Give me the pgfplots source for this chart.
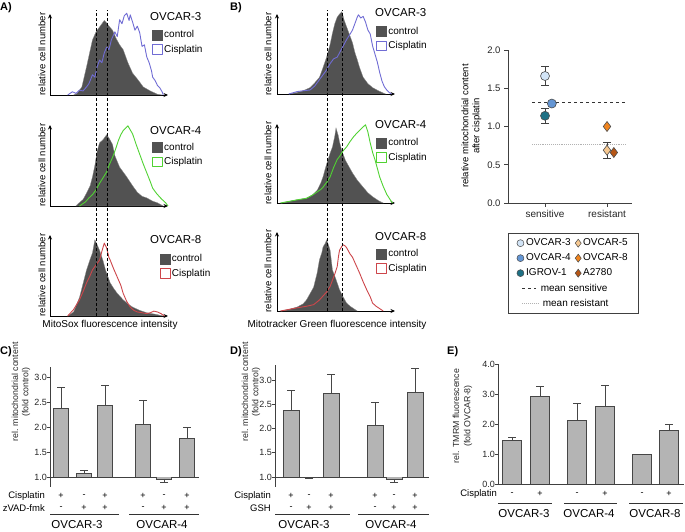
\documentclass[border=0pt]{standalone}
\usepackage{pgfplots}
\pgfplotsset{compat=1.18}
\usetikzlibrary{arrows.meta}
\usepackage{fontspec}
\setmainfont{Liberation Sans}

\definecolor{cisblue}{RGB}{112,108,212}
\definecolor{cisgreen}{RGB}{80,210,50}
\definecolor{cisred}{RGB}{205,70,75}
\definecolor{ctrlgray}{RGB}{82,82,82}
\definecolor{barfill}{RGB}{180,180,180}
\definecolor{baredge}{RGB}{70,70,70}
\definecolor{cA}{RGB}{210,228,246}
\definecolor{cB}{RGB}{100,150,212}
\definecolor{cC}{RGB}{30,112,132}
\definecolor{dA}{RGB}{246,200,145}
\definecolor{dB}{RGB}{240,132,30}
\definecolor{dC}{RGB}{182,86,22}

\pgfplotsset{
  every axis/.append style={/pgf/number format/assume math mode=true},
  hist/.style={scale only axis, anchor=south west, width=118pt, height=81pt,
    xmin=0, xmax=100, ymin=0, ymax=100,
    axis lines=left, xtick=\empty, ytick=\empty, clip=false,
    axis line style={line width=0.9pt, -{Stealth[length=4.5pt,width=4pt]}},
    legend cell align=left,
    legend style={draw=none, fill=none, anchor=north west,
      font=\fontsize{10}{11}\selectfont, row sep=3pt, inner sep=0pt,
      nodes={inner sep=1.5pt}},
  },
  ctrl/.style={fill=ctrlgray, draw=black!45, line width=0.3pt,
    legend image code/.code={\fill[ctrlgray] (0pt,-5pt) rectangle (10pt,5pt);}},
  cis/.style={draw=#1, line width=0.9pt, line join=round,
    legend image code/.code={\draw[#1, line width=0.8pt] (0.4pt,-4.6pt) rectangle (10pt,5pt);}},
  barax/.style={scale only axis, anchor=south west, clip=false,
    axis x line=none, axis y line=left,
    axis line style={-, line width=0.8pt, black!75},
    tick align=outside, major tick length=3pt,
    tick style={black!75, line width=0.8pt},
    tick label style={font=\fontsize{9}{10}\selectfont, black!85},
    yticklabel style={inner xsep=1.5pt, xshift=1.5pt, /pgf/number format/.cd, fixed, fixed zerofill, precision=1},
    xtick=\empty},
  bar/.style={fill=barfill, draw=baredge, line width=0.8pt},
  eb/.style={draw=none, mark=none, forget plot,
    error bars/y explicit,
    error bars/error bar style={draw=baredge, line width=0.8pt},
    error bars/error mark options={rotate=90, mark size=4pt, draw=baredge, line width=0.8pt}},
  mleg/.style={legend image code/.code={\draw[##1] plot coordinates {(0pt,0pt)};}},
}

\begin{document}
\begin{tikzpicture}
\useasboundingbox (0pt,0pt) rectangle (685pt,532pt);

% ================= Panel A =================
\begin{axis}[hist, at={(50pt,437pt)}, legend style={at={(0.864,0.815)}}]
\addplot[ctrl] coordinates {(20,0)(23,2)(27,10)(31,35)(34,55)(36,68)(39,78)(42,84)(44,88)(46,92)(48,89)(50,85)(53,80)(56,70)(59,62)(62,56)(66,40)(70,27)(75,18)(79,10)(85,5)(91,1)(95,0)} \closedcycle;
\addlegendentry{control}
\addplot[cis=cisblue] coordinates {(15,0)(19,4)(22,2)(25,6)(28,5)(31,10)(33,14)(36,25)(38,22)(40,35)(42,43)(44,40)(46,52)(48,59)(50,56)(52,68)(55,78)(57,72)(59,93)(61,88)(63,98)(65,101)(67,92)(68,99)(70,90)(72,80)(74,85)(76,77)(78,60)(80,62)(82,47)(84,40)(86,30)(87,22)(89,18)(91,12)(93,9)(95,4)(96,0)};
\addlegendentry{Cisplatin}
\end{axis}

\begin{axis}[hist, at={(50pt,326pt)}, legend style={at={(0.864,0.80)}}]
\addplot[ctrl] coordinates {(22,0)(24,3)(28,8)(31,16)(34,25)(36,36)(38,50)(40,68)(42,78)(45,82)(48,88)(50,84)(53,76)(55,62)(57,55)(59,48)(62,42)(65,36)(70,25)(74,17)(78,12)(82,10)(87,6)(91,4)(96,0)} \closedcycle;
\addlegendentry{control}
\addplot[cis=cisgreen] coordinates {(25,0)(30,5)(33,10)(36,14)(39,20)(42,28)(45,35)(48,42)(50,50)(53,60)(56,72)(58,81)(60,88)(62,93)(64,96)(66,99)(68,94)(70,89)(73,76)(76,64)(79,52)(82,41)(85,30)(87,22)(90,16)(93,11)(95,8)(98,4)(100,0)};
\addlegendentry{Cisplatin}
\end{axis}

\begin{axis}[hist, at={(50pt,216pt)}, legend style={at={(0.93,0.78)}}]
\addplot[ctrl] coordinates {(15,0)(20,5)(25,23)(28,40)(31,57)(34,70)(36,78)(38,94)(40,88)(42,81)(45,68)(47,57)(51,41)(54,34)(57,28)(62,20)(66,15)(70,11)(76,7)(82,4)(90,2)(96,0)} \closedcycle;
\addlegendentry{control}
\addplot[cis=cisred] coordinates {(15,0)(20,8)(25,20)(28,30)(31,41)(34,50)(36,57)(39,63)(42,69)(44,80)(46,90)(48,84)(50,72)(51,69)(54,58)(57,48)(60,38)(62,28)(65,18)(68,11)(71,7)(74,5)(78,4)(82,3)(85,4)(88,6)(91,5)(94,3)(97,0)};
\addlegendentry{Cisplatin}
\end{axis}

\begin{axis}[at={(50pt,216pt)}, anchor=south west, scale only axis, width=118pt, height=306pt, xmin=0, xmax=100, ymin=0, ymax=1, hide axis]
\addplot[black, densely dashed, line width=0.5pt] coordinates {(39.6,0)(39.6,1)};
\addplot[black, densely dashed, line width=0.5pt] coordinates {(48.6,0)(48.6,1)};
\end{axis}

% ================= Panel B histograms =================
\begin{axis}[hist, at={(277pt,438pt)}, height=80pt, legend style={at={(0.84,0.86)}}]
\addplot[ctrl] coordinates {(10,0)(17,2)(22,4)(28,8)(32,14)(36,21)(39,33)(42,46)(45,62)(47,76)(49,88)(51,96)(53,100)(55,103)(57,92)(59,84)(62,72)(64,64)(66,52)(68,43)(70,33)(73,21)(77,13)(81,8)(86,4)(92,0)} \closedcycle;
\addlegendentry{control}
\addplot[cis=cisblue] coordinates {(10,0)(17,3)(22,4)(28,5)(32,10)(36,18)(39,24)(42,30)(45,38)(48,44)(51,46)(55,57)(59,68)(62,75)(64,80)(66,88)(68,96)(69,99)(71,95)(73,97)(75,90)(77,80)(79,75)(81,60)(83,50)(85,40)(87,27)(89,16)(91,9)(93,5)(95,2)(97,0)};
\addlegendentry{Cisplatin}
\end{axis}

\begin{axis}[hist, at={(277pt,329pt)}, height=79pt, legend style={at={(0.84,0.835)}}]
\addplot[ctrl] coordinates {(3,0)(10,2)(17,4)(25,6)(30,10)(34,16)(37,25)(39,33)(41,44)(43,54)(45,63)(47,71)(49,85)(50,95)(52,85)(53,77)(55,66)(58,54)(61,46)(64,38)(68,29)(73,20)(77,13)(81,8)(86,3)(90,0)} \closedcycle;
\addlegendentry{control}
\addplot[cis=cisgreen] coordinates {(3,0)(10,2)(17,4)(25,6)(30,10)(34,14)(37,17)(39,20)(41,24)(43,28)(45,33)(48,45)(51,55)(53,59)(56,66)(59,71)(62,78)(65,84)(68,89)(70,92)(72,95)(75,99)(77,90)(79,76)(81,64)(83,55)(85,44)(87,33)(90,21)(93,11)(96,4)(98,0)};
\addlegendentry{Cisplatin}
\end{axis}

\begin{axis}[hist, at={(277pt,221pt)}, height=79pt, legend style={at={(0.84,0.80)}}]
\addplot[ctrl] coordinates {(3,0)(10,2)(17,5)(22,9)(25,14)(28,22)(31,30)(34,48)(36,65)(38,74)(39,81)(41,86)(42,90)(44,82)(45,77)(47,52)(50,40)(53,27)(56,18)(59,10)(62,6)(64,4)(68,0)} \closedcycle;
\addlegendentry{control}
\addplot[cis=cisred] coordinates {(3,0)(10,2)(17,4)(25,6)(31,8)(36,14)(39,19)(42,24)(45,31)(47,39)(49,47)(51,56)(52,68)(53,77)(55,82)(56,84)(58,82)(59,80)(62,72)(64,68)(67,58)(70,48)(73,37)(76,27)(79,18)(81,10)(84,6)(86,4)(90,0)};
\addlegendentry{Cisplatin}
\end{axis}

\begin{axis}[at={(277pt,221pt)}, anchor=south west, scale only axis, width=118pt, height=301pt, xmin=0, xmax=100, ymin=0, ymax=1, hide axis]
\addplot[black, densely dashed, line width=0.5pt] coordinates {(42.6,0)(42.6,1)};
\addplot[black, densely dashed, line width=0.5pt] coordinates {(55.4,0)(55.4,1)};
\end{axis}

% ================= Scatter =================
\begin{axis}[at={(508pt,329pt)}, anchor=south west, scale only axis, width=124pt, height=153pt,
  xmin=0.403, xmax=2.403, ymin=0, ymax=2, axis lines*=left, clip=false,
  axis line style={black!75, line width=0.8pt},
  xtick={1,2}, xticklabels={sensitive,resistant}, ytick={0,0.5,1,1.5,2},
  tick align=outside, major tick length=4pt, tick style={black!75, line width=0.8pt},
  yticklabel style={/pgf/number format/.cd, fixed, fixed zerofill, precision=1},
  tick label style={font=\fontsize{9.5}{10}\selectfont, black!85},
  xticklabel style={font=\fontsize{10}{11}\selectfont},
  legend columns=2, legend cell align=left,
  legend style={at={(0,-0.196)}, anchor=north west, draw=black!75, line width=0.9pt,
    font=\fontsize{10}{11}\selectfont, inner xsep=8.5pt, inner ysep=3.5pt, row sep=2.5pt,
    nodes={inner ysep=2pt, inner xsep=2pt}},
]
\addplot[black!80, dashed, line width=0.8pt, forget plot] coordinates {(0.79,1.32)(2.31,1.32)};
\addplot[black!30, densely dotted, line width=0.9pt, forget plot] coordinates {(0.79,0.76)(2.31,0.76)};
\addplot[draw=none, mark=none, forget plot, error bars/y dir=both, error bars/y explicit,
  error bars/error bar style={draw=black!75, line width=0.7pt},
  error bars/error mark options={rotate=90, mark size=4pt, draw=black!75, line width=0.7pt}]
  coordinates {(1,1.66) +- (0,0.12) (1,1.14) +- (0,0.10) (2,0.69) +- (0,0.10)};
\addplot[only marks, mark=*, mark size=4.5pt, mark options={fill=cA, draw=black!70, line width=0.6pt}, forget plot] coordinates {(1,1.66)};
\addplot[only marks, mark=*, mark size=4.5pt, mark options={fill=cC, draw=black!70, line width=0.6pt}, forget plot] coordinates {(1,1.14)};
\addplot[only marks, mark=*, mark size=4.5pt, mark options={fill=cB, draw=black!70, line width=0.6pt}, forget plot] coordinates {(1.11,1.30)};
\addplot[only marks, mark=diamond*, mark size=5pt, mark options={fill=dB, draw=black!70, line width=0.6pt}, forget plot] coordinates {(2,1.0)};
\addplot[only marks, mark=diamond*, mark size=5pt, mark options={fill=dA, draw=black!70, line width=0.6pt}, forget plot] coordinates {(2,0.69)};
\addplot[only marks, mark=diamond*, mark size=5pt, mark options={fill=dC, draw=black!70, line width=0.6pt}, forget plot] coordinates {(2.11,0.66)};
\addlegendimage{mleg, only marks, mark=*, mark size=3.5pt, mark options={fill=cA, draw=black!70, line width=0.5pt}}
\addlegendentry{\makebox[47pt][l]{OVCAR-3}}
\addlegendimage{mleg, only marks, mark=diamond*, mark size=4pt, mark options={fill=dA, draw=black!70, line width=0.5pt}}
\addlegendentry{OVCAR-5}
\addlegendimage{mleg, only marks, mark=*, mark size=3.5pt, mark options={fill=cB, draw=black!70, line width=0.5pt}}
\addlegendentry{\makebox[47pt][l]{OVCAR-4}}
\addlegendimage{mleg, only marks, mark=diamond*, mark size=4pt, mark options={fill=dB, draw=black!70, line width=0.5pt}}
\addlegendentry{OVCAR-8}
\addlegendimage{mleg, only marks, mark=*, mark size=3.5pt, mark options={fill=cC, draw=black!70, line width=0.5pt}}
\addlegendentry{\makebox[47pt][l]{IGROV-1}}
\addlegendimage{mleg, only marks, mark=diamond*, mark size=4pt, mark options={fill=dC, draw=black!70, line width=0.5pt}}
\addlegendentry{A2780}
\addlegendimage{empty legend}
\addlegendentry{\makebox[0pt][l]{\hspace*{-4pt}\tikz[baseline=-0.6ex]\draw[black!80, dashed, line width=0.8pt] (0pt,0pt) -- (14pt,0pt);\hspace*{4pt}mean sensitive}}
\addlegendimage{empty legend}
\addlegendentry{}
\addlegendimage{empty legend}
\addlegendentry{\makebox[0pt][l]{\hspace*{-4pt}\tikz[baseline=-0.6ex]\draw[black!30, densely dotted, line width=0.9pt] (0pt,0pt) -- (17pt,0pt);\hspace*{3pt}mean resistant}}
\end{axis}

% ================= Panel C =================
\begin{axis}[barax, at={(50pt,45pt)}, width=149pt, height=120pt,
  xmin=50, xmax=199, ymin=0.8, ymax=3.2, ytick={1,1.5,2,2.5,3}]
\addplot[black!75, line width=0.8pt] coordinates {(50,1)(199,1)};
\addplot[bar] coordinates {(53.5,1)(53.5,2.38)(68.5,2.38)(68.5,1)};
\addplot[bar] coordinates {(76.5,1)(76.5,1.08)(91.5,1.08)(91.5,1)};
\addplot[bar] coordinates {(97.5,1)(97.5,2.43)(112.5,2.43)(112.5,1)};
\addplot[bar] coordinates {(135.5,1)(135.5,2.06)(150.5,2.06)(150.5,1)};
\addplot[bar] coordinates {(156.5,1)(156.5,0.96)(171.5,0.96)(171.5,1)};
\addplot[bar] coordinates {(179.5,1)(179.5,1.77)(194.5,1.77)(194.5,1)};
\addplot[eb, error bars/y dir=plus] coordinates {(61,2.38) +- (0,0.42) (84,1.08) +- (0,0.06) (105,2.43) +- (0,0.40) (143,2.06) +- (0,0.48) (187,1.77) +- (0,0.23)};
\addplot[eb, error bars/y dir=minus] coordinates {(164,0.96) +- (0,0.06)};
\end{axis}

% ================= Panel D =================
\begin{axis}[barax, at={(275pt,45pt)}, width=154pt, height=122pt,
  xmin=275, xmax=429, ymin=0.794, ymax=3.31, ytick={1,1.5,2,2.5,3}]
\addplot[black!75, line width=0.8pt] coordinates {(275,1)(429,1)};
\addplot[bar] coordinates {(283,1)(283,2.37)(299,2.37)(299,1)};
\addplot[bar] coordinates {(301,1)(301,0.99)(317,0.99)(317,1)};
\addplot[bar] coordinates {(323,1)(323,2.72)(339,2.72)(339,1)};
\addplot[bar] coordinates {(367,1)(367,2.06)(383,2.06)(383,1)};
\addplot[bar] coordinates {(386,1)(386,0.95)(402,0.95)(402,1)};
\addplot[bar] coordinates {(407,1)(407,2.75)(423,2.75)(423,1)};
\addplot[eb, error bars/y dir=plus] coordinates {(291,2.37) +- (0,0.42) (331,2.72) +- (0,0.39) (375,2.06) +- (0,0.47) (415,2.75) +- (0,0.48)};
\addplot[eb, error bars/y dir=minus] coordinates {(309,0.99) +- (0,0.02) (394,0.95) +- (0,0.06)};
\end{axis}

% ================= Panel E =================
\begin{axis}[barax, at={(498pt,48pt)}, width=186pt, height=120pt,
  xmin=498, xmax=684, ymin=0, ymax=4, ytick={0,1,2,3,4}]
\addplot[black!75, line width=0.8pt] coordinates {(498,0)(684,0)};
\addplot[bar] coordinates {(502.5,0)(502.5,1.44)(521.5,1.44)(521.5,0)};
\addplot[bar] coordinates {(530.5,0)(530.5,2.91)(549.5,2.91)(549.5,0)};
\addplot[bar] coordinates {(567.5,0)(567.5,2.11)(586.5,2.11)(586.5,0)};
\addplot[bar] coordinates {(595.5,0)(595.5,2.60)(614.5,2.60)(614.5,0)};
\addplot[bar] coordinates {(632.5,0)(632.5,1.00)(651.5,1.00)(651.5,0)};
\addplot[bar] coordinates {(659.5,0)(659.5,1.77)(678.5,1.77)(678.5,0)};
\addplot[eb, error bars/y dir=plus] coordinates {(512,1.44) +- (0,0.12) (540,2.91) +- (0,0.33) (577,2.11) +- (0,0.59) (605,2.60) +- (0,0.70) (669,1.77) +- (0,0.20)};
\end{axis}

% ================= Text =================
\begin{scope}[every node/.style={font=\bfseries\fontsize{11}{12}\selectfont, anchor=west, inner sep=0pt}]
\node at (0pt,524pt) {A)};
\node at (230pt,524pt) {B)};
\node at (0pt,180pt) {C)};
\node at (230pt,180pt) {D)};
\node at (447pt,180pt) {E)};
\end{scope}

\begin{scope}[every node/.style={font=\fontsize{11.5}{12}\selectfont, anchor=west, inner sep=0pt}]
\node at (150pt,515pt) {OVCAR-3};
\node at (150pt,401pt) {OVCAR-4};
\node at (150pt,292pt) {OVCAR-8};
\node at (375pt,519pt) {OVCAR-3};
\node at (375pt,407pt) {OVCAR-4};
\node at (375pt,295pt) {OVCAR-8};
\end{scope}

\begin{scope}[every node/.style={font=\fontsize{9.5}{10}\selectfont, rotate=90, inner sep=0pt}]
\node at (42pt,478pt) {relative cell number};
\node at (42pt,367pt) {relative cell number};
\node at (42pt,257pt) {relative cell number};
\node at (268pt,478pt) {relative cell number};
\node at (268pt,369pt) {relative cell number};
\node at (268pt,261pt) {relative cell number};
\node at (465pt,406pt) {relative mitochondrial content};
\node at (477pt,406pt) {after cisplatin};
\end{scope}

\node[font=\fontsize{10}{11}\selectfont, inner sep=0pt] at (110pt,207pt) {MitoSox fluorescence intensity};
\node[font=\fontsize{10}{11}\selectfont, inner sep=0pt] at (337pt,207pt) {Mitotracker Green fluorescence intensity};

\begin{scope}[every node/.style={font=\fontsize{8.8}{10}\selectfont, rotate=90, inner sep=0pt, text=black!85}]
\node at (15pt,140pt) {rel. mitochondrial content};
\node at (26pt,140pt) {(fold control)};
\node at (245pt,140pt) {rel. mitochondrial content};
\node at (256pt,140pt) {(fold control)};
\node at (456pt,116pt) {rel. TMRM fluorescence};
\node at (468pt,116pt) {(fold OVCAR-8)};
\end{scope}

% row labels and signs
\begin{scope}[every node/.style={font=\fontsize{9.5}{10}\selectfont, inner sep=0pt}]
\node[anchor=east] at (45pt,36pt) {Cisplatin};
\node[anchor=east] at (45pt,24pt) {zVAD-fmk};
\node[anchor=east] at (271pt,36pt) {Cisplatin};
\node[anchor=east] at (271pt,24pt) {GSH};
\node[anchor=east] at (497pt,38pt) {Cisplatin};
\end{scope}
\begin{scope}[every node/.style={font=\fontsize{9}{10}\selectfont, inner sep=0pt}]
\node at (61pt,36pt) {+}; \node at (84pt,36pt) {-}; \node at (105pt,36pt) {+};
\node at (143pt,36pt) {+}; \node at (164pt,36pt) {-}; \node at (187pt,36pt) {+};
\node at (61pt,24pt) {-}; \node at (84pt,24pt) {+}; \node at (105pt,24pt) {+};
\node at (143pt,24pt) {-}; \node at (164pt,24pt) {+}; \node at (187pt,24pt) {+};
\node at (291pt,36pt) {+}; \node at (309pt,36pt) {-}; \node at (331pt,36pt) {+};
\node at (375pt,36pt) {+}; \node at (394pt,36pt) {-}; \node at (415pt,36pt) {+};
\node at (291pt,24pt) {-}; \node at (309pt,24pt) {+}; \node at (331pt,24pt) {+};
\node at (375pt,24pt) {-}; \node at (394pt,24pt) {+}; \node at (415pt,24pt) {+};
\node at (512pt,38pt) {-}; \node at (540pt,38pt) {+};
\node at (577pt,38pt) {-}; \node at (605pt,38pt) {+};
\node at (642pt,38pt) {-}; \node at (669pt,38pt) {+};
\end{scope}
\begin{scope}[line width=0.9pt, black!80]
\draw (50pt,18pt) -- (119pt,18pt);
\draw (129pt,18pt) -- (199pt,18pt);
\draw (275pt,18pt) -- (350pt,18pt);
\draw (358pt,18pt) -- (429pt,18pt);
\draw (498pt,29pt) -- (552pt,29pt);
\draw (564pt,29pt) -- (617pt,29pt);
\draw (629pt,29pt) -- (683pt,29pt);
\end{scope}
\begin{scope}[every node/.style={font=\fontsize{11.5}{12}\selectfont, inner sep=0pt}]
\node at (77pt,7pt) {OVCAR-3};
\node at (162pt,7pt) {OVCAR-4};
\node at (304pt,7pt) {OVCAR-3};
\node at (391pt,7pt) {OVCAR-4};
\node at (524pt,18pt) {OVCAR-3};
\node at (589pt,18pt) {OVCAR-4};
\node at (655pt,18pt) {OVCAR-8};
\end{scope}
\end{tikzpicture}
\end{document}
